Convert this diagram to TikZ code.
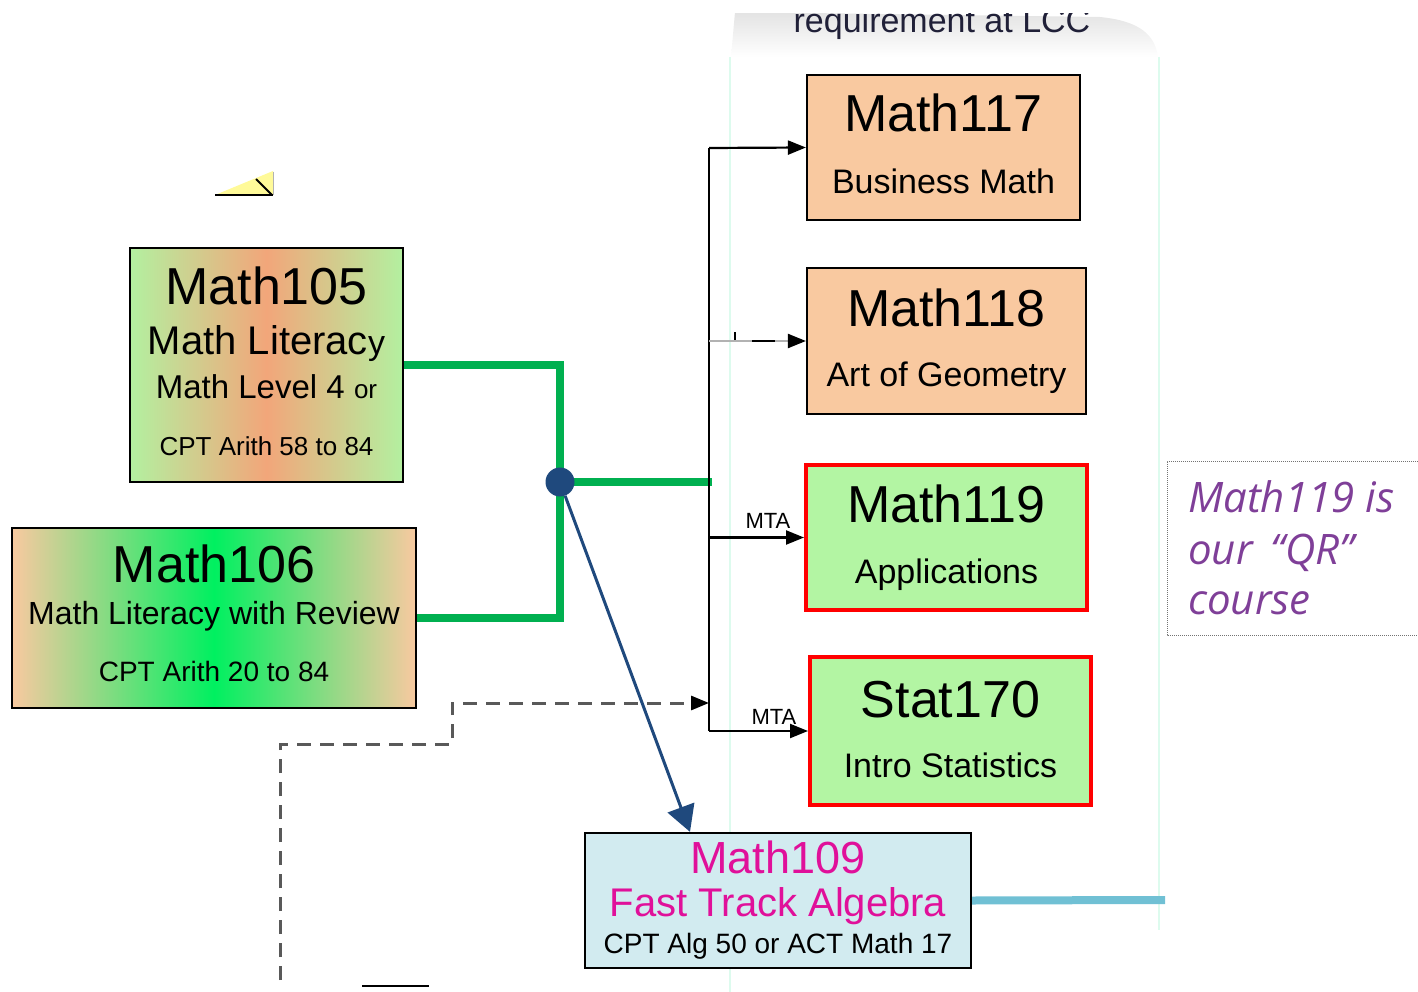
\documentclass[tikz,border=0pt]{standalone}
\usepackage{fontspec}
\setmainfont{Liberation Sans}
\newfontfamily\notefont{Open Sans}
\usetikzlibrary{arrows.meta,calc}

\definecolor{peach}{HTML}{F9C9A0}
\definecolor{mintbox}{HTML}{B3F5A3}
\definecolor{litegreen}{HTML}{B3F0A0}
\definecolor{orangemid}{HTML}{F2A67A}
\definecolor{brightgreen}{HTML}{00F060}
\definecolor{linkgreen}{HTML}{00B050}
\definecolor{navy}{HTML}{1F497D}
\definecolor{skybox}{HTML}{D2EBF0}
\definecolor{cyanlink}{HTML}{70C0D4}
\definecolor{magentatxt}{HTML}{E0109A}
\definecolor{notepurple}{HTML}{7F3F98}
\definecolor{faintline}{HTML}{DDFBEE}
\definecolor{headtxt}{HTML}{202038}

\newcommand{\fs}[1]{\fontsize{#1}{#1}\selectfont}

\tikzset{
  course/.style={draw=black, line width=2.2pt, inner sep=0pt},
  elective/.style={draw=red, line width=4pt, inner sep=0pt, fill=mintbox},
  txt/.style={anchor=base, inner sep=0pt},
  tree/.style={line width=2.2pt, -{Triangle[length=18pt,width=14pt]}},
  greenlink/.style={linkgreen, line width=8pt},
}

\begin{document}
\begin{tikzpicture}[x=1pt,y=-1pt]
    \useasboundingbox (0,0) rectangle (1418,992);

    % faint frame of the elective column
    \draw[faintline, line width=1.5pt] (730,57) -- (730,992);
    \draw[faintline, line width=1.5pt] (1159,57) -- (1159,930);

    % header tab, cut off at the top
    \begin{scope}
        \clip (700,14) rectangle (1200,70);
        \shade[top color=black!11, bottom color=white]
            (731,57) -- (735,12) -- (1100,17) .. controls (1140,21) and (1155,35) .. (1158,57) -- cycle;
        \node[txt, headtxt, font=\fs{34}] (head) at (942,33) {requirement at LCC};
    \end{scope}

    % little note triangle
    \fill[yellow!40] (215,195) -- (273,171) -- (273,195) -- cycle;
    \draw[gray!60, line width=1pt] (273,172) -- (273,195);
    \draw[line width=1.8pt] (215,195) -- (273,195);
    \draw[line width=1.8pt] (256,179) -- (272,195);

    % entry courses
    \node[course, minimum width=273pt, minimum height=234pt,
          left color=litegreen, right color=litegreen, middle color=orangemid] (m105) at (266.5,365) {};
    \node[txt, font=\fs{52}] (m105a) at (m105 |- 0,304) {Math105};
    \node[txt, font=\fs{40}] (m105b) at (m105 |- 0,354) {Math Literac{\fs{34}y}};
    \node[txt, font=\fs{33}] (m105c) at (m105 |- 0,398) {Math Level 4 {\fs{26}or}};
    \node[txt, font=\fs{26}] (m105d) at (m105 |- 0,455) {CPT Arith 58 to 84};

    \node[course, minimum width=404pt, minimum height=180pt,
          left color=peach, right color=peach, middle color=brightgreen] (m106) at (214,618) {};
    \node[txt, font=\fs{52}] (m106a) at (m106 |- 0,582) {Math106};
    \node[txt, font=\fs{32}] (m106b) at (m106 |- 0,624) {Math Literacy with Review};
    \node[txt, font=\fs{28}] (m106c) at (m106 |- 0,681) {CPT Arith 20 to 84};

    % courses that meet the requirement
    \node[course, fill=peach, minimum width=273pt, minimum height=145pt] (m117) at (943.5,147.5) {};
    \node[txt, font=\fs{52}] (m117a) at (m117 |- 0,132) {Math117};
    \node[txt, font=\fs{34}] (m117b) at (m117 |- 0,194) {Business Math};

    \node[course, fill=peach, minimum width=279pt, minimum height=146pt] (m118) at (946.5,341) {};
    \node[txt, font=\fs{52}] (m118a) at (m118 |- 0,326) {Math118};
    \node[txt, font=\fs{34}] (m118b) at (m118 |- 0,386) {Art of Geometry};

    \node[elective, minimum width=281pt, minimum height=145pt] (m119) at (946.5,537.5) {};
    \node[txt, font=\fs{52}] (m119a) at (m119 |- 0,522) {Math119};
    \node[txt, font=\fs{34}] (m119b) at (m119 |- 0,583) {Applications};

    \node[elective, minimum width=281pt, minimum height=148pt] (s170) at (950.5,731) {};
    \node[txt, font=\fs{52}] (s170a) at (s170 |- 0,717) {Stat170};
    \node[txt, font=\fs{34}] (s170b) at (s170 |- 0,777) {Intro Statistics};

    % algebra track
    \node[course, fill=skybox, minimum width=386pt, minimum height=135pt] (m109) at (778,900.5) {};
    \node[txt, magentatxt, font=\fs{45}] (m109a) at (m109 |- 0,873) {Math109};
    \node[txt, magentatxt, font=\fs{40}] (m109b) at (m109 |- 0,916) {Fast Track Algebra};
    \node[txt, font=\fs{28}] (m109c) at (m109 |- 0,953) {CPT Alg 50 or ACT Math 17};

    % green joins into the hub
    \coordinate (hubpt) at (560,482);
    \coordinate (trunk) at (709,148);
    \draw[greenlink] (m105.east) -| (hubpt) |- (m106.east);
    \draw[greenlink] (hubpt) -- (hubpt -| 712,0);

    % the tree of arrows
    \draw[line width=2.2pt] (trunk) -- (trunk |- s170.west);
    \draw[tree] (trunk) -- (m117.west);
    \draw[line width=2.2pt, black!30, -{Triangle[length=18pt,width=14pt,black]}] (trunk |- m118.west) -- (m118.west);
    \draw[line width=2.2pt] (752,341) -- (775,341);
    \draw[line width=1.8pt] (735,332) -- (735,340);
    \draw[tree] (trunk |- m119.west) -- (m119.west);
    \node[txt, font=\fs{22}] (mta1) at (768,528) {MTA};
    \draw[tree] (trunk |- s170.west) -- (s170.west);
    \node[txt, font=\fs{22}] (mta2) at (774,724) {MTA};

    % dashed way in from below
    \coordinate (dashfoot) at (280,980);
    \coordinate (dashend) at (709,703);
    \draw[black!65, line width=3pt, dash pattern=on 14pt off 9pt, -{Triangle[length=18pt,width=14pt,black]}]
        (dashfoot) |- (452,744) |- (dashend);

    % hub and the arrow down to Math109
    \node[circle, fill=navy, minimum size=29pt, inner sep=0pt] (hub) at (hubpt) {};
    \draw[navy, line width=3pt, -{Triangle[length=26pt,width=28pt]}] (hub) -- (m109.north -| 690,0);

    % line out of Math109
    \coordinate (qrend) at (1165,900);
    \draw[cyanlink, line width=8pt] (m109.east) -- (qrend);

    % note on the right
    \draw[black!55, line width=1pt, densely dotted] (1430,461) -- (1167,461) -- (1167,635) -- (1430,635);
    \node[txt, anchor=base west, notepurple, font=\notefont\itshape\fs{42}] (qr1) at (1188,512) {Math119 is};
    \node[txt, anchor=base west, notepurple, font=\notefont\itshape\fs{42}] (qr2) at (1188,564) {our \,“QR”};
    \node[txt, anchor=base west, notepurple, font=\notefont\itshape\fs{42}] (qr3) at (1188,614) {course};

    % stray bit at the bottom
    \draw[line width=2.2pt] (362,986) -- (429,986);
\end{tikzpicture}
\end{document}
